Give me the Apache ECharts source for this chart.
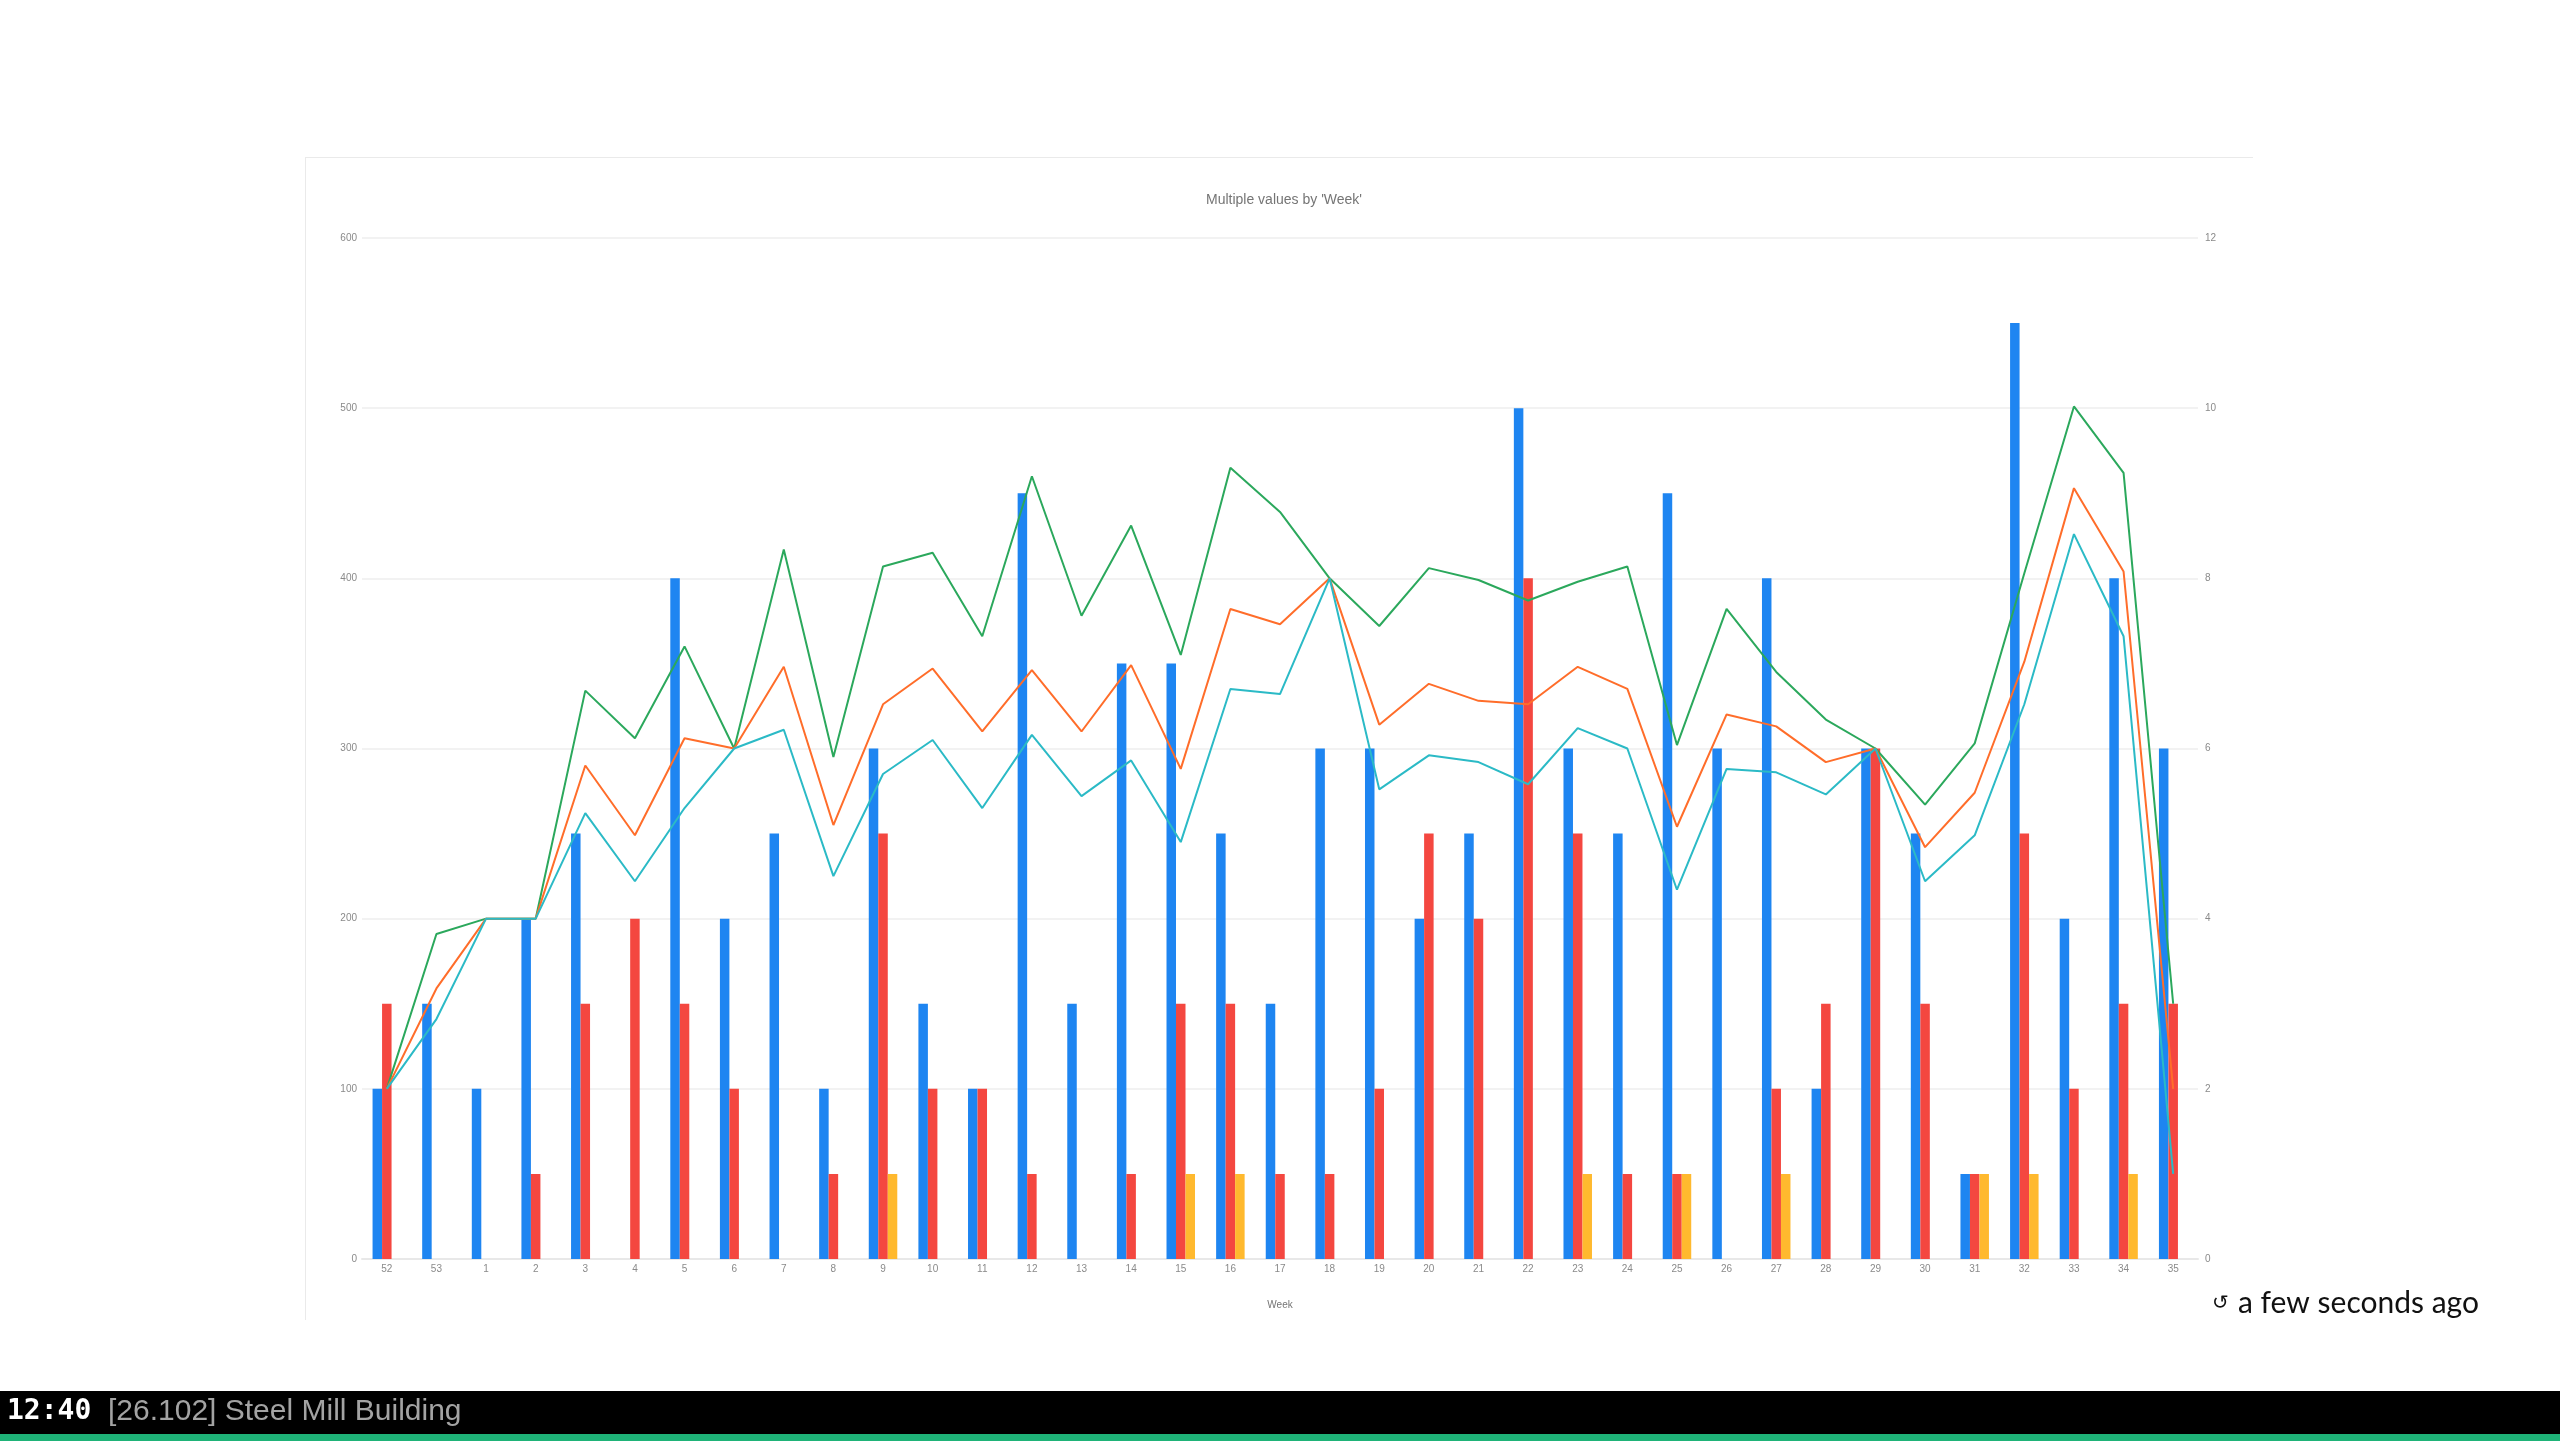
<!DOCTYPE html>
<html>
<head>
<meta charset="utf-8">
<style>html,body{margin:0;padding:0;background:#fff}#c{width:2560px;height:1441px}</style>
<script src="https://cdn.jsdelivr.net/npm/echarts@6/dist/echarts.min.js"></script>
</head>
<body>
<div id="c"></div>
<script>
const weeks = ['52','53','1','2','3','4','5','6','7','8','9','10','11','12','13','14','15','16','17','18','19','20','21','22','23','24','25','26','27','28','29','30','31','32','33','34','35'];
const blueBars = [2,3,2,4,5,null,8,4,5,2,6,3,2,9,3,7,7,5,3,6,6,4,5,10,6,5,9,6,8,2,6,5,1,11,4,8,6];
const redBars = [3,null,null,1,3,4,3,2,null,1,5,2,2,1,null,1,3,3,1,1,2,5,4,8,5,1,1,null,2,3,6,3,1,5,2,3,3];
const yellowBars = [null,null,null,null,null,null,null,null,null,null,1,null,null,null,null,null,1,1,null,null,null,null,null,null,1,null,1,null,1,null,null,null,1,1,null,1,null];
const greenLine = [100,191,200,200,334,306,360,300,417,295,407,415,366,460,378,431,355,465,439,400,372,406,399,387,398,407,302,382,345,317,300,267,303,403,501,462,150];
const orangeLine = [100,159,200,200,290,249,306,300,348,255,326,347,310,346,310,349,288,382,373,400,314,338,328,326,348,335,254,320,313,292,300,242,274,351,453,404,100];
const tealLine = [100,141,200,200,262,222,265,300,311,225,285,305,265,308,272,293,245,335,332,400,276,296,292,279,312,300,217,288,286,273,300,222,249,326,426,366,50];
const leftTicks = {min:0,max:600,interval:100};
const rightTicks = {min:0,max:12,interval:2};

const axisFont = {color:'#8a8a8a',fontSize:10,fontFamily:'Liberation Sans'};
const chart = echarts.init(document.getElementById('c'),null,{renderer:'canvas',width:2560,height:1441});
const bar = (name,data,color)=>({name,type:'bar',yAxisIndex:1,data,barWidth:9.5,barGap:'0%',itemStyle:{color},z:2,animation:false});
const line = (name,data,color,z)=>({name,type:'line',yAxisIndex:0,data,showSymbol:false,symbol:'none',smooth:false,lineStyle:{color,width:2},itemStyle:{color},z,animation:false});
chart.setOption({
  animation:false,
  backgroundColor:'#ffffff',
  title:{text:"Multiple values by 'Week'",left:1279,top:188,textAlign:'center',
    textStyle:{color:'#757575',fontSize:14,fontWeight:'normal',fontFamily:'Liberation Sans'}},
  legend:{show:false},
  grid:{left:362,right:362,top:238,bottom:182,containLabel:false},
  xAxis:{type:'category',data:weeks,name:'Week',nameLocation:'middle',nameGap:41,
    nameTextStyle:Object.assign({},axisFont,{color:'#757575'}),
    axisLine:{lineStyle:{color:'#e8e8e8',width:2}},axisTick:{show:false},
    axisLabel:Object.assign({interval:0,margin:5},axisFont),splitLine:{show:false}},
  yAxis:[
    Object.assign({type:'value',position:'left',axisLine:{show:false},axisTick:{show:false},
      axisLabel:Object.assign({margin:5},axisFont),splitLine:{show:true,lineStyle:{color:'#eeeeee',width:1.5}}},leftTicks),
    Object.assign({type:'value',position:'right',axisLine:{show:false},axisTick:{show:false},
      axisLabel:Object.assign({margin:7},axisFont),splitLine:{show:false}},rightTicks)
  ],
  series:[
    bar('Blue',blueBars,'#1e85f1'),
    bar('Red',redBars,'#f44740'),
    bar('Yellow',yellowBars,'#ffb92e'),
    line('Green',greenLine,'#2ba85c',5),
    line('Orange',orangeLine,'#ff6d2a',6),
    line('Teal',tealLine,'#2bbac6',7)
  ],
  graphic:[
    {type:'rect',silent:true,z:-1,shape:{x:305,y:157,width:1948,height:1},style:{fill:'#eaeaea'}},
    {type:'rect',silent:true,z:-1,shape:{x:305,y:157,width:1,height:1163},style:{fill:'#eaeaea'}},
    {type:'rect',silent:true,z:20,shape:{x:0,y:1391,width:2560,height:43},style:{fill:'#000000'}},
    {type:'rect',silent:true,z:20,shape:{x:0,y:1434,width:2560,height:7},style:{fill:'#1fb378'}},
    {type:'text',silent:true,z:21,x:7,y:1412,style:{text:'12:40',fill:'#ffffff',font:'bold 28px "DejaVu Sans Mono"',textVerticalAlign:'middle'}},
    {type:'text',silent:true,z:21,x:108,y:1412,style:{text:'[26.102] Steel Mill Building',fill:'#a3a3a3',font:'30px "Liberation Sans"',textVerticalAlign:'middle'}},
    {type:'text',silent:true,z:21,x:2212,y:1304,style:{text:'\u21BA',fill:'#111111',font:'20px "DejaVu Sans"',textVerticalAlign:'middle'}},
    {type:'text',silent:true,z:21,x:2238,y:1303,style:{text:'a few seconds ago',fill:'#111111',font:'30px "Lato"',textVerticalAlign:'middle'}}
  ]
});
</script>
</body>
</html>
